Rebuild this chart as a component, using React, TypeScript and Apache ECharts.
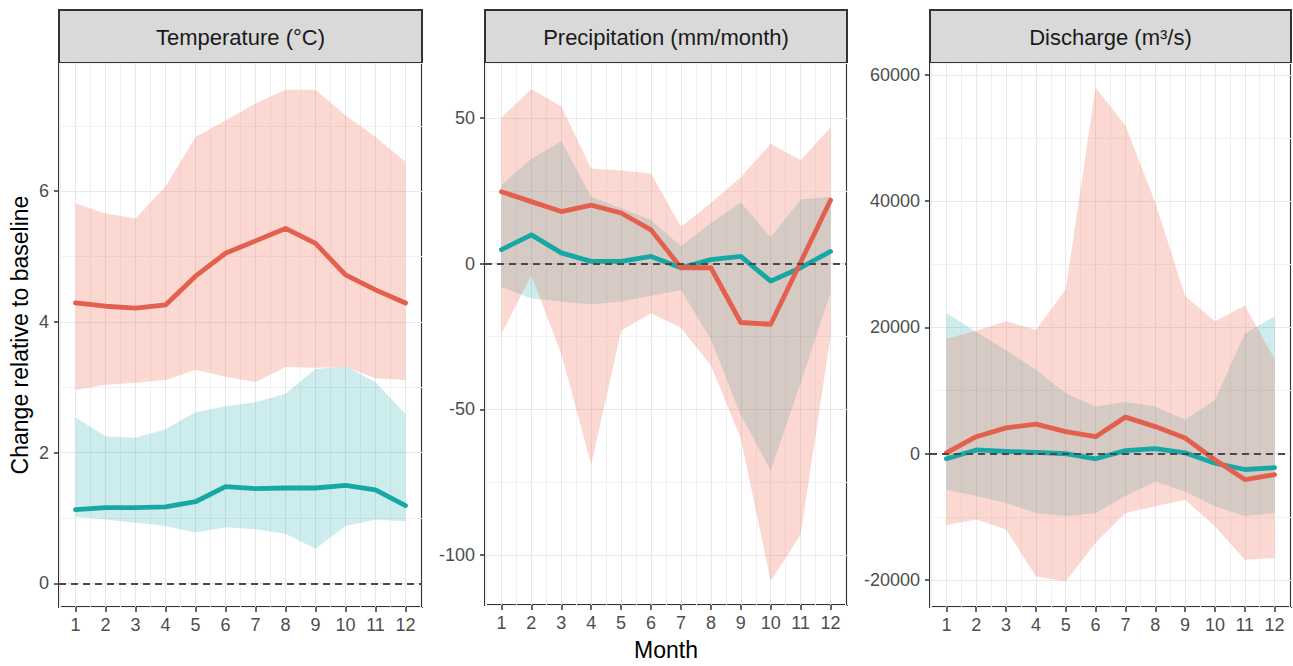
import React, { useEffect, useRef } from "react";
import * as echarts from "echarts";

// ---------- data ----------
const months = [1, 2, 3, 4, 5, 6, 7, 8, 9, 10, 11, 12];

// Temperature (°C)
const tempRedMean = [4.29, 4.24, 4.21, 4.26, 4.7, 5.05, 5.24, 5.43, 5.2, 4.72, 4.49, 4.29];
const tempRedLow = [2.96, 3.04, 3.07, 3.11, 3.27, 3.16, 3.08, 3.31, 3.3, 3.31, 3.14, 3.11];
const tempRedHigh = [5.81, 5.66, 5.58, 6.07, 6.83, 7.08, 7.34, 7.55, 7.55, 7.16, 6.83, 6.45];
const tempTealMean = [1.13, 1.16, 1.16, 1.17, 1.25, 1.48, 1.45, 1.46, 1.46, 1.5, 1.43, 1.19];
const tempTealLow = [1.02, 0.98, 0.93, 0.88, 0.78, 0.86, 0.83, 0.76, 0.53, 0.88, 0.98, 0.95];
const tempTealHigh = [2.54, 2.25, 2.23, 2.36, 2.62, 2.71, 2.77, 2.9, 3.28, 3.32, 3.08, 2.59];

// Precipitation (mm/month)
const precRedMean = [24.7, 21.3, 17.9, 20.1, 17.4, 11.6, -1.4, -1.4, -20.2, -20.8, 0.5, 21.8];
const precRedLow = [-24, -4, -31, -69, -23, -17, -22, -35, -60, -109, -93, -25];
const precRedHigh = [50.2, 60, 54, 32.7, 32, 31, 12.7, 20.8, 29.7, 41.2, 35.5, 46.8];
const precTealMean = [4.8, 9.9, 3.7, 0.8, 0.8, 2.5, -1.4, 1.4, 2.5, -6.0, -1.4, 4.2];
const precTealLow = [-8, -12, -13, -14, -13, -11, -9, -26, -52, -71, -41, -10];
const precTealHigh = [27, 36, 42, 23, 19, 15, 6, 14, 21, 9, 22, 23];

// Discharge (m³/s)
const disRedMean = [150, 2700, 4100, 4700, 3500, 2700, 5800, 4300, 2500, -950, -4100, -3300];
const disRedLow = [-11300, -10400, -12000, -19400, -20200, -14100, -9400, -8300, -7300, -11500, -16800, -16500];
const disRedHigh = [18200, 19500, 21000, 19600, 26000, 58000, 52000, 39800, 25000, 21000, 23500, 15000];
const disTealMean = [-800, 600, 370, 200, 0, -800, 500, 800, 150, -1500, -2500, -2200];
const disTealLow = [-5700, -6700, -7800, -9400, -9900, -9400, -6700, -4400, -6000, -8300, -9900, -9400];
const disTealHigh = [22300, 19300, 16400, 13300, 9600, 7500, 8200, 7500, 5400, 8500, 19000, 21800];

const panelTitles = ["Temperature (°C)", "Precipitation (mm/month)", "Discharge (m³/s)"];
const yTickValues = [
  [0, 2, 4, 6],
  [-100, -50, 0, 50],
  [-20000, 0, 20000, 40000, 60000],
];
const yMinorStep = [1, 25, 10000];
const xMinorStep = 0.5;
const yLimits = [
  [-0.36, 7.96],
  [-117.2, 68.9],
  [-24280, 61900],
];
const xLimits = [0.45, 12.55];
const yAxisTitle = "Change relative to baseline";
const xAxisTitle = "Month";

// ---------- styles / layout ----------
const FONT = "'Liberation Sans', Arial, Helvetica, sans-serif";
const RED_LINE = "#E4604E";
const TEAL_LINE = "#17A8A5";
const RED_FILL = "rgba(240,110,90,0.27)";
const TEAL_FILL = "rgba(0,160,165,0.2)";
const GRID_MAJOR = "#e8e8e8";
const GRID_MINOR = "#f1f1f1";
const layout = [
  { left: 59, width: 363 },
  { left: 485, width: 362 },
  { left: 930, width: 361 },
];
const TOP = 63;
const HEIGHT = 544;
const STRIP_TOP = 10;
const STRIP_H = 53;

const panelData = [
  { red: [tempRedLow, tempRedHigh, tempRedMean], teal: [tempTealLow, tempTealHigh, tempTealMean] },
  { red: [precRedLow, precRedHigh, precRedMean], teal: [precTealLow, precTealHigh, precTealMean] },
  { red: [disRedLow, disRedHigh, disRedMean], teal: [disTealLow, disTealHigh, disTealMean] },
];

function ribbon(i: number, low: number[], high: number[], fill: string) {
  return {
    type: "custom",
    xAxisIndex: i,
    yAxisIndex: i,
    silent: true,
    data: months.map((m, k) => [m, low[k], high[k]]),
    encode: { x: 0, y: [1, 2] },
    renderItem: (params: any, api: any) => {
      if (params.dataIndex !== 0) return null;
      const top = months.map((m, k) => api.coord([m, high[k]]));
      const bottom = months.map((m, k) => api.coord([m, low[k]])).reverse();
      return {
        type: "polygon",
        shape: { points: top.concat(bottom) },
        style: { fill },
      };
    },
  };
}

function meanLine(i: number, values: number[], color: string, withZero: boolean) {
  const s: any = {
    type: "line",
    xAxisIndex: i,
    yAxisIndex: i,
    silent: true,
    symbol: "none",
    data: months.map((m, k) => [m, values[k]]),
    lineStyle: { color, width: 4.8, cap: "round", join: "round" },
  };
  if (withZero) {
    s.markLine = {
      silent: true,
      symbol: "none",
      label: { show: false },
      lineStyle: { type: [7, 5], color: "#4a4a4a", width: 1.8 },
      data: [{ yAxis: 0 }],
    };
  }
  return s;
}

export default function App() {
  const ref = useRef<HTMLDivElement>(null);
  useEffect(() => {
    if (!ref.current) return;
    const chart = echarts.init(ref.current, null, { renderer: "svg" });
    const series: any[] = [];
    panelData.forEach((p, i) => {
      series.push(ribbon(i, p.teal[0], p.teal[1], TEAL_FILL));
      series.push(ribbon(i, p.red[0], p.red[1], RED_FILL));
      series.push(meanLine(i, p.teal[2], TEAL_LINE, false));
      series.push(meanLine(i, p.red[2], RED_LINE, true));
    });

    const graphic: any[] = [];
    layout.forEach((l, i) => {
      graphic.push({
        type: "rect",
        shape: { x: l.left, y: STRIP_TOP, width: l.width, height: STRIP_H },
        style: { fill: "#d9d9d9", stroke: "#333", lineWidth: 2 },
      });
      graphic.push({
        type: "text",
        style: {
          x: l.left + l.width / 2,
          y: STRIP_TOP + STRIP_H / 2 + 1,
          text: panelTitles[i],
          fill: "#1a1a1a",
          font: `22px ${FONT}`,
          align: "center",
          verticalAlign: "middle",
        },
      });
    });

    // primary axes: ticks, labels, major grid lines
    const xMain = layout.map((l, i) => ({
      type: "value",
      gridIndex: i,
      position: "bottom",
      min: xLimits[0],
      max: xLimits[1],
      axisLine: { show: false, onZero: false },
      axisTick: {
        show: true,
        customValues: months,
        length: 5,
        lineStyle: { color: "#333", width: 1.5 },
      },
      axisLabel: {
        customValues: months,
        color: "#4d4d4d",
        fontSize: 18,
        fontFamily: FONT,
        margin: 9,
        formatter: (v: number) => String(v),
      },
      splitLine: { show: true, lineStyle: { color: GRID_MAJOR, width: 1 } },
      name: i === 1 ? xAxisTitle : "",
      nameLocation: "middle",
      nameGap: 33,
      nameTextStyle: { fontSize: 23, color: "#000", fontFamily: FONT },
      z: 1,
    }));
    // secondary axes: only the minor grid lines
    const xMinor = layout.map((l, i) => ({
      type: "value",
      gridIndex: i,
      position: "bottom",
      min: xLimits[0],
      max: xLimits[1],
      minInterval: xMinorStep,
      maxInterval: xMinorStep,
      axisLine: { show: false, onZero: false },
      axisTick: { show: false },
      axisLabel: { show: false },
      splitLine: { show: true, lineStyle: { color: GRID_MINOR, width: 1 } },
      z: 0,
    }));
    const yMain = layout.map((l, i) => ({
      type: "value",
      gridIndex: i,
      position: "left",
      min: yLimits[i][0],
      max: yLimits[i][1],
      axisLine: { show: false, onZero: false },
      axisTick: {
        show: true,
        customValues: yTickValues[i],
        length: 5,
        lineStyle: { color: "#333", width: 1.5 },
      },
      axisLabel: {
        customValues: yTickValues[i],
        color: "#4d4d4d",
        fontSize: 18,
        fontFamily: FONT,
        margin: 10,
        formatter: (v: number) => String(v),
      },
      splitLine: { show: true, lineStyle: { color: GRID_MAJOR, width: 1 } },
      name: i === 0 ? yAxisTitle : "",
      nameLocation: "middle",
      nameGap: 28,
      nameRotate: 90,
      nameTextStyle: { fontSize: 23, color: "#000", fontFamily: FONT },
      z: 1,
    }));
    const yMinor = layout.map((l, i) => ({
      type: "value",
      gridIndex: i,
      position: "left",
      min: yLimits[i][0],
      max: yLimits[i][1],
      minInterval: yMinorStep[i],
      maxInterval: yMinorStep[i],
      axisLine: { show: false, onZero: false },
      axisTick: { show: false },
      axisLabel: { show: false },
      splitLine: { show: true, lineStyle: { color: GRID_MINOR, width: 1 } },
      z: 0,
    }));

    const option: any = {
      animation: false,
      backgroundColor: "#ffffff",
      textStyle: { fontFamily: FONT },
      grid: layout.map((l) => ({
        left: l.left,
        top: TOP,
        width: l.width,
        height: HEIGHT,
        show: true,
        borderColor: "#333",
        borderWidth: 2,
        backgroundColor: "transparent",
      })),
      xAxis: xMain.concat(xMinor as any),
      yAxis: yMain.concat(yMinor as any),
      graphic,
      series,
    };
    chart.setOption(option);
    return () => chart.dispose();
  }, []);

  return (
    <div
      ref={ref}
      style={{ position: "fixed", left: 0, top: 0, width: 1293, height: 666, background: "#fff" }}
    />
  );
}
